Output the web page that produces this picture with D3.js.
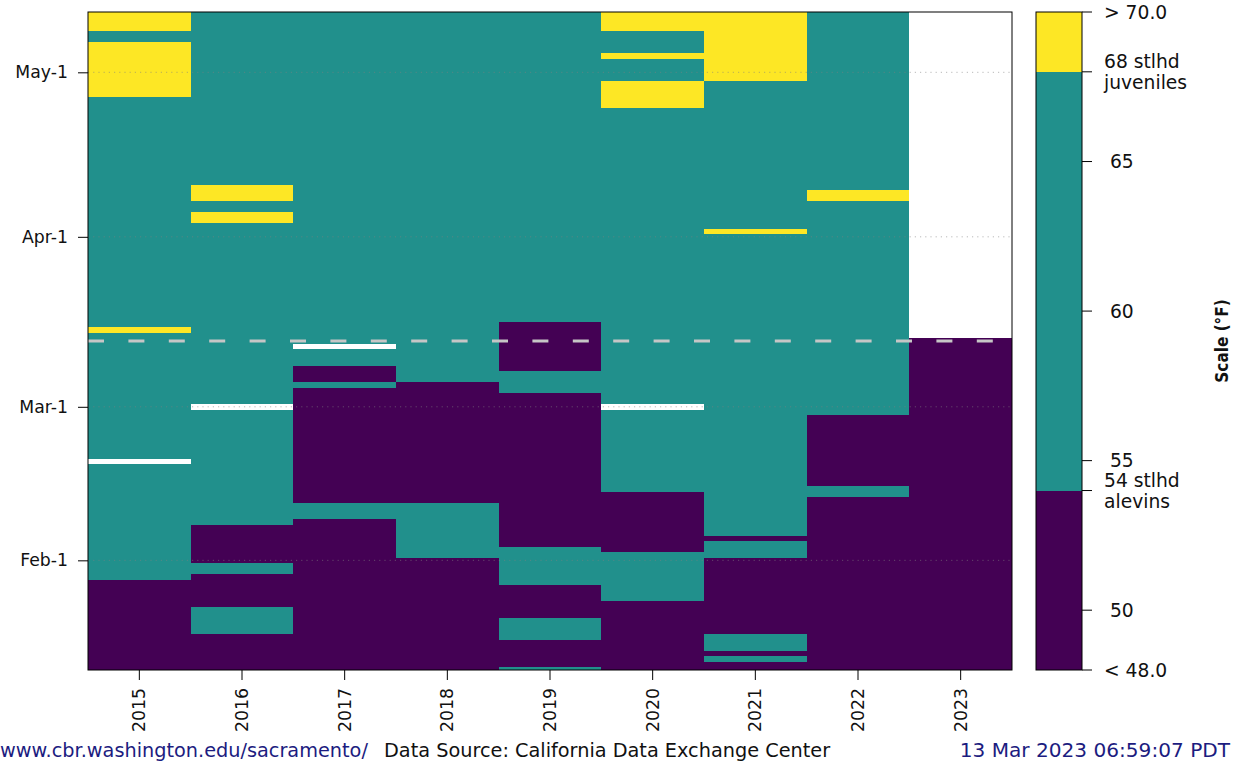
<!DOCTYPE html>
<html>
<head>
<meta charset="utf-8">
<script src="https://cdn.jsdelivr.net/npm/d3@7"></script>
<style>
  html, body { margin: 0; padding: 0; background: #fff; }
  svg { display: block; font-family: "DejaVu Sans", Verdana, sans-serif; }
</style>
</head>
<body>
<svg id="chart" width="1243" height="765"></svg>
<script>
// Daily water-temperature class per year, Jan 12 - May 12.
// Each run: [first day, last day, class]; class "lo" < 54 F, "mid" 54-68 F, "hi" > 68 F, "na" no data.
const years = ["2015", "2016", "2017", "2018", "2019", "2020", "2021", "2022", "2023"];

const runs2015 = [["01-12","01-28","lo"],["01-29","02-18","mid"],["02-19","02-19","na"],["02-20","03-14","mid"],
  ["03-15","03-15","hi"],["03-16","04-26","mid"],["04-27","05-06","hi"],["05-07","05-08","mid"],["05-09","05-12","hi"]];
const runs2016 = [["01-12","01-18","lo"],["01-19","01-23","mid"],["01-24","01-29","lo"],["01-30","01-31","mid"],
  ["02-01","02-07","lo"],["02-08","02-28","mid"],["03-01","03-01","na"],["03-02","04-03","mid"],["04-04","04-05","hi"],
  ["04-06","04-07","mid"],["04-08","04-10","hi"],["04-11","05-12","mid"]];
const runs2017 = [["01-12","02-08","lo"],["02-09","02-11","mid"],["02-12","03-04","lo"],["03-05","03-05","mid"],
  ["03-06","03-08","lo"],["03-09","03-11","mid"],["03-12","03-12","na"],["03-13","05-12","mid"]];
const runs2018 = [["01-12","02-01","lo"],["02-02","02-11","mid"],["02-12","03-05","lo"],["03-06","05-12","mid"]];
const runs2019 = [["01-12","01-12","mid"],["01-13","01-17","lo"],["01-18","01-21","mid"],["01-22","01-27","lo"],
  ["01-28","02-03","mid"],["02-04","03-03","lo"],["03-04","03-07","mid"],["03-08","03-16","lo"],["03-17","05-12","mid"]];
const runs2020 = [["01-12","01-24","lo"],["01-25","02-02","mid"],["02-03","02-13","lo"],["02-14","02-28","mid"],
  ["03-01","03-01","na"],["03-02","04-24","mid"],["04-25","04-29","hi"],["04-30","05-03","mid"],["05-04","05-04","hi"],
  ["05-05","05-08","mid"],["05-09","05-12","hi"]];
const runs2021 = [["01-12","01-13","lo"],["01-14","01-14","mid"],["01-15","01-15","lo"],["01-16","01-18","mid"],
  ["01-19","02-01","lo"],["02-02","02-04","mid"],["02-05","02-05","lo"],["02-06","04-01","mid"],["04-02","04-02","hi"],
  ["04-03","04-29","mid"],["04-30","05-12","hi"]];
const runs2022 = [["01-12","02-12","lo"],["02-13","02-14","mid"],["02-15","02-27","lo"],["02-28","04-07","mid"],
  ["04-08","04-09","hi"],["04-10","05-12","mid"]];
const runs2023 = [["01-12","03-13","lo"]];
const runsByYear = [runs2015, runs2016, runs2017, runs2018, runs2019, runs2020, runs2021, runs2022, runs2023];

const classKeys = ["lo", "mid", "hi"];
const classColors = ["#440154", "#21908c", "#fde725"];

const dateRange = ["01-12", "05-12"];
const dateTicks = ["02-01", "03-01", "04-01", "05-01"];
const dateTickLabels = ["Feb-1", "Mar-1", "Apr-1", "May-1"];
const currentDay = "03-13";

// Colour key (degrees F)
const keyRange = [48, 70];
const keyBands = [[48, 54], [54, 68], [68, 70]];
const keyTicks = [70, 68, 65, 60, 55, 54, 50, 48];
const keyTickLabels = [["> 70.0"], ["68 stlhd", "juveniles"], [" 65"], [" 60"], [" 55"], ["54 stlhd", "alevins"], [" 50"], ["< 48.0"]];

const footerLeft = "www.cbr.washington.edu/sacramento/";
const footerMid = "Data Source: California Data Exchange Center";
const footerRight = "13 Mar 2023 06:59:07 PDT";

// ---- layout ----
const plot = { left: 88, right: 1012, top: 12, bottom: 670 };
const key = { left: 1036, right: 1082 };
const svg = d3.select("#chart");

const parseDay = d3.timeParse("%Y-%m-%d");
const dayOfYear = md => { const t = parseDay("2023-" + md); return d3.timeDay.count(d3.timeYear(t), t) + 1; };

const x = d3.scaleBand().domain(years).range([plot.left, plot.right]).padding(0);
const y = d3.scaleLinear().domain(dateRange.map(dayOfYear)).range([plot.bottom, plot.top]);
const color = d3.scaleOrdinal().domain(classKeys).range(classColors);

svg.append("defs").append("clipPath").attr("id", "plotClip")
  .append("rect").attr("x", plot.left).attr("y", plot.top)
  .attr("width", plot.right - plot.left).attr("height", plot.bottom - plot.top);

// ---- heat cells ----
const cellData = [];
years.forEach((yr, i) => runsByYear[i].forEach(r => {
  if (r[2] !== "na") cellData.push({ year: yr, start: dayOfYear(r[0]), end: dayOfYear(r[1]), cls: r[2] });
}));

svg.append("g").attr("clip-path", "url(#plotClip)")
  .selectAll("rect").data(cellData).join("rect")
  .attr("x", d => x(d.year))
  .attr("width", x.bandwidth())
  .attr("y", d => y(d.end + 0.5))
  .attr("height", d => y(d.start - 0.5) - y(d.end + 0.5))
  .attr("fill", d => color(d.cls))
  .attr("shape-rendering", "crispEdges");

// ---- gridlines ----
svg.append("g").selectAll("line").data(dateTicks.map(dayOfYear)).join("line")
  .attr("x1", plot.left).attr("x2", plot.right)
  .attr("y1", d => y(d)).attr("y2", d => y(d))
  .attr("stroke", "#808080").attr("stroke-opacity", 0.55)
  .attr("stroke-width", 1).attr("stroke-dasharray", "1.2,4");

// ---- current-day marker ----
svg.append("line")
  .attr("x1", plot.left).attr("x2", plot.right)
  .attr("y1", y(dayOfYear(currentDay))).attr("y2", y(dayOfYear(currentDay)))
  .attr("stroke", "#c6c6c6").attr("stroke-width", 3)
  .attr("stroke-dasharray", "16,24.4");

// ---- frame ----
svg.append("rect")
  .attr("x", plot.left).attr("y", plot.top)
  .attr("width", plot.right - plot.left).attr("height", plot.bottom - plot.top)
  .attr("fill", "none").attr("stroke", "#000").attr("stroke-width", 1);

// ---- axes ----
const yAxis = svg.append("g").attr("transform", `translate(${plot.left},0)`)
  .call(d3.axisLeft(y).tickValues(dateTicks.map(dayOfYear))
    .tickFormat((d, i) => dateTickLabels[i]).tickSize(10).tickPadding(10));
yAxis.select(".domain").remove();
yAxis.selectAll("text").attr("font-size", 17.3).attr("font-family", "DejaVu Sans").attr("fill", "#111");

const xAxis = svg.append("g").attr("transform", `translate(0,${plot.bottom})`)
  .call(d3.axisBottom(x).tickSize(10));
xAxis.select(".domain").remove();
xAxis.selectAll("text")
  .attr("font-size", 17.3).attr("font-family", "DejaVu Sans").attr("fill", "#111")
  .attr("transform", "rotate(-90)")
  .attr("text-anchor", "end")
  .attr("x", -18).attr("y", 0).attr("dy", "0.35em");

// ---- colour key ----
const k = d3.scaleLinear().domain(keyRange).range([plot.bottom, plot.top]);
const kColor = d3.scaleThreshold().domain([54, 68]).range(classColors);

svg.append("g").selectAll("rect").data(keyBands).join("rect")
  .attr("x", key.left).attr("width", key.right - key.left)
  .attr("y", d => k(d[1])).attr("height", d => k(d[0]) - k(d[1]))
  .attr("fill", d => kColor((d[0] + d[1]) / 2))
  .attr("shape-rendering", "crispEdges");
svg.append("rect")
  .attr("x", key.left).attr("y", plot.top)
  .attr("width", key.right - key.left).attr("height", plot.bottom - plot.top)
  .attr("fill", "none").attr("stroke", "#000");

const keyTick = svg.append("g").selectAll("g").data(keyTicks).join("g")
  .attr("transform", d => `translate(${key.right},${k(d)})`);
keyTick.append("line").attr("x1", 0).attr("x2", 10).attr("stroke", "#000");
keyTick.each(function (d, i) {
  const lines = keyTickLabels[i];
  const lineGap = 21;
  const t = d3.select(this).append("text")
    .attr("x", 22).attr("font-size", 18.7).attr("fill", "#111")
    .attr("xml:space", "preserve").style("white-space", "pre");
  lines.forEach((s, j) => {
    t.append("tspan").attr("x", 22)
      .attr("y", (j - (lines.length - 1) / 2) * lineGap)
      .attr("dy", "0.35em").text(s);
  });
});

svg.append("text")
  .attr("transform", `translate(1222,${(plot.top + plot.bottom) / 2}) rotate(-90)`)
  .attr("text-anchor", "middle").attr("dy", "0.35em")
  .attr("font-family", "'DejaVu Sans Condensed', 'DejaVu Sans'")
  .style("font-stretch", "condensed")
  .attr("font-weight", "bold").attr("font-size", 17).attr("fill", "#111")
  .text("Scale (°F)");

// ---- footer ----
svg.append("text").attr("x", 0).attr("y", 757).attr("font-size", 19.3)
  .attr("fill", "#1c1c80").text(footerLeft);
svg.append("text").attr("x", 384).attr("y", 757).attr("font-size", 19.3)
  .attr("fill", "#111").text(footerMid);
svg.append("text").attr("x", 1230).attr("y", 757).attr("font-size", 20.1)
  .attr("text-anchor", "end").attr("fill", "#1c1c80").text(footerRight);
</script>
</body>
</html>
